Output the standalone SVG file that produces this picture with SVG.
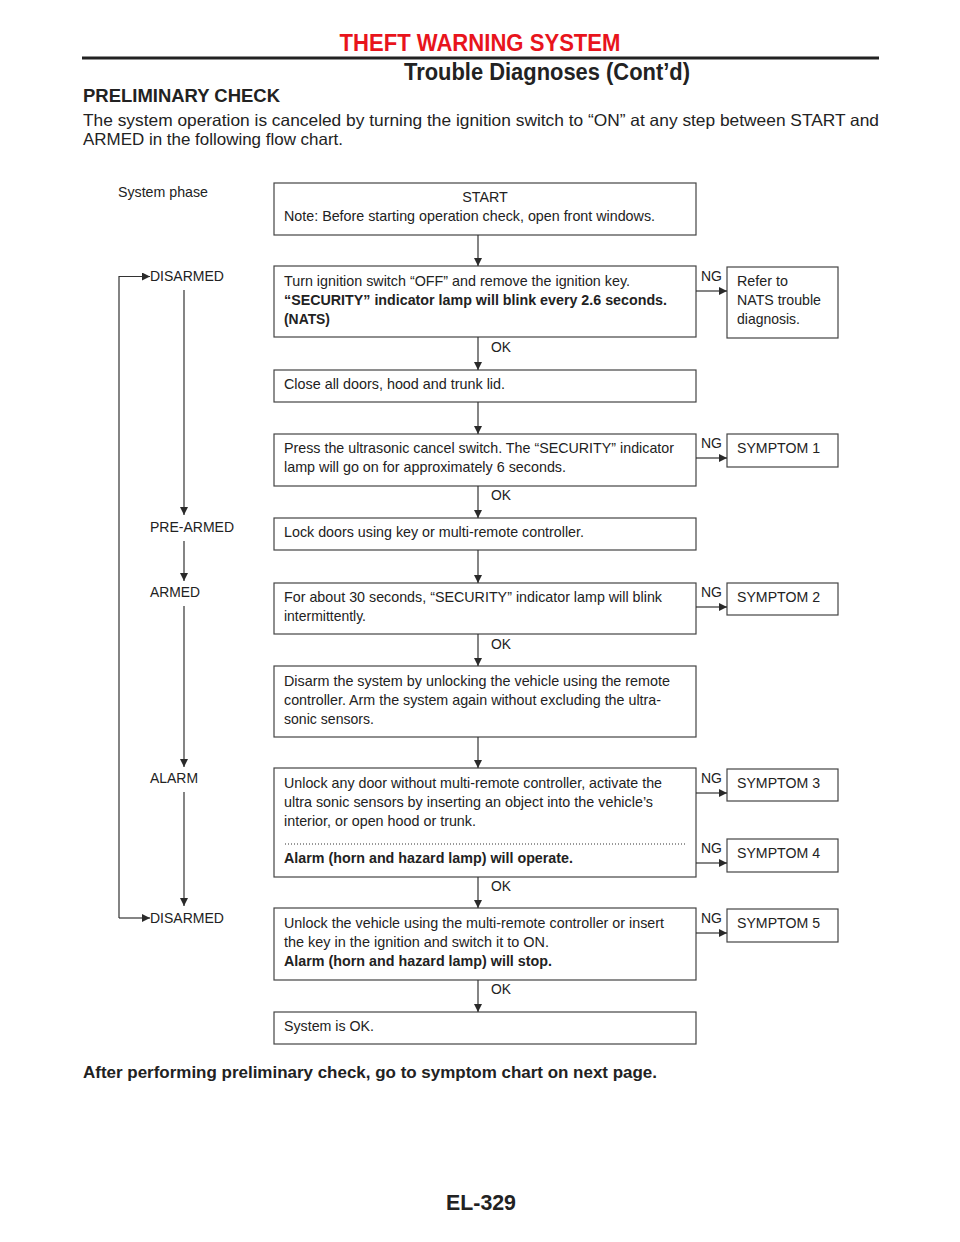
<svg xmlns="http://www.w3.org/2000/svg" width="960" height="1242" viewBox="0 0 960 1242">
<defs>
<marker id="ah" viewBox="0 0 10 10" refX="10" refY="5" markerWidth="9" markerHeight="8" markerUnits="userSpaceOnUse" orient="auto">
<path d="M0,0 L10,5 L0,10 z" fill="#2a2a2a"/>
</marker>
<style>
text{font-family:"Liberation Sans",Arial,Helvetica,sans-serif;fill:#222;}
.t{font-size:14.3px;}
.b{font-weight:bold;}
.box{fill:#fff;stroke:#444;stroke-width:1.2;}
.ln{fill:none;stroke:#333;stroke-width:1.2;}
.ar{fill:none;stroke:#333;stroke-width:1.2;marker-end:url(#ah);}
</style>
</defs>
<rect x="0" y="0" width="960" height="1242" fill="#fff"/>

<g id="header">
<text x="480" y="51" font-size="23" font-weight="bold" text-anchor="middle" style="fill:#e8141c" textLength="281" lengthAdjust="spacingAndGlyphs">THEFT WARNING SYSTEM</text>
<rect x="82" y="56.5" width="797" height="3" fill="#222"/>
<text x="404" y="80" font-size="23" font-weight="bold" textLength="286" lengthAdjust="spacingAndGlyphs">Trouble Diagnoses (Cont’d)</text>
<text x="83" y="102" font-size="18.5" font-weight="bold" textLength="197" lengthAdjust="spacingAndGlyphs">PRELIMINARY CHECK</text>
<text x="83" y="126" font-size="16.5" textLength="796" lengthAdjust="spacingAndGlyphs">The system operation is canceled by turning the ignition switch to “ON” at any step between START and</text>
<text x="83" y="145" font-size="16.5" textLength="260" lengthAdjust="spacingAndGlyphs">ARMED in the following flow chart.</text>
</g>

<g id="phases">
<text class="t" x="118" y="197" textLength="90" lengthAdjust="spacingAndGlyphs">System phase</text>
<text class="t" x="150" y="281" textLength="74" lengthAdjust="spacingAndGlyphs">DISARMED</text>
<text class="t" x="150" y="532" textLength="84" lengthAdjust="spacingAndGlyphs">PRE-ARMED</text>
<text class="t" x="150" y="597" textLength="50" lengthAdjust="spacingAndGlyphs">ARMED</text>
<text class="t" x="150" y="783" textLength="48" lengthAdjust="spacingAndGlyphs">ALARM</text>
<text class="t" x="150" y="923" textLength="74" lengthAdjust="spacingAndGlyphs">DISARMED</text>
</g>

<g id="n_start">
<rect class="box" x="274" y="183" width="422" height="52"/>
<text class="t" x="485" y="202" text-anchor="middle">START</text>
<text class="t" x="284" y="221" textLength="371" lengthAdjust="spacingAndGlyphs">Note: Before starting operation check, open front windows.</text>
</g>

<g id="n_ignition">
<rect class="box" x="274" y="266" width="422" height="71"/>
<text class="t" x="284" y="286" textLength="346" lengthAdjust="spacingAndGlyphs">Turn ignition switch “OFF” and remove the ignition key.</text>
<text class="t b" x="284" y="305" textLength="383" lengthAdjust="spacingAndGlyphs">“SECURITY” indicator lamp will blink every 2.6 seconds.</text>
<text class="t b" x="284" y="324" textLength="46" lengthAdjust="spacingAndGlyphs">(NATS)</text>
</g>

<g id="n_nats">
<rect class="box" x="727" y="267" width="111" height="71"/>
<text class="t" x="737" y="286" textLength="51" lengthAdjust="spacingAndGlyphs">Refer to</text>
<text class="t" x="737" y="305" textLength="84" lengthAdjust="spacingAndGlyphs">NATS trouble</text>
<text class="t" x="737" y="324" textLength="63" lengthAdjust="spacingAndGlyphs">diagnosis.</text>
</g>

<g id="n_close">
<rect class="box" x="274" y="370" width="422" height="32"/>
<text class="t" x="284" y="389" textLength="221" lengthAdjust="spacingAndGlyphs">Close all doors, hood and trunk lid.</text>
</g>

<g id="n_press">
<rect class="box" x="274" y="434" width="422" height="52"/>
<text class="t" x="284" y="453" textLength="390" lengthAdjust="spacingAndGlyphs">Press the ultrasonic cancel switch. The “SECURITY” indicator</text>
<text class="t" x="284" y="472" textLength="282" lengthAdjust="spacingAndGlyphs">lamp will go on for approximately 6 seconds.</text>
</g>

<g id="n_sym1">
<rect class="box" x="727" y="434" width="111" height="33"/>
<text class="t" x="737" y="453" textLength="83" lengthAdjust="spacingAndGlyphs">SYMPTOM 1</text>
</g>

<g id="n_lock">
<rect class="box" x="274" y="518" width="422" height="32"/>
<text class="t" x="284" y="537" textLength="300" lengthAdjust="spacingAndGlyphs">Lock doors using key or multi-remote controller.</text>
</g>

<g id="n_blink">
<rect class="box" x="274" y="583" width="422" height="51"/>
<text class="t" x="284" y="602" textLength="378" lengthAdjust="spacingAndGlyphs">For about 30 seconds, “SECURITY” indicator lamp will blink</text>
<text class="t" x="284" y="621" textLength="82" lengthAdjust="spacingAndGlyphs">intermittently.</text>
</g>

<g id="n_sym2">
<rect class="box" x="727" y="583" width="111" height="32"/>
<text class="t" x="737" y="602" textLength="83" lengthAdjust="spacingAndGlyphs">SYMPTOM 2</text>
</g>

<g id="n_disarm">
<rect class="box" x="274" y="666" width="422" height="71"/>
<text class="t" x="284" y="686" textLength="386" lengthAdjust="spacingAndGlyphs">Disarm the system by unlocking the vehicle using the remote</text>
<text class="t" x="284" y="705" textLength="377" lengthAdjust="spacingAndGlyphs">controller. Arm the system again without excluding the ultra-</text>
<text class="t" x="284" y="724" textLength="90" lengthAdjust="spacingAndGlyphs">sonic sensors.</text>
</g>

<g id="n_unlock">
<rect class="box" x="274" y="768" width="422" height="109"/>
<text class="t" x="284" y="788" textLength="378" lengthAdjust="spacingAndGlyphs">Unlock any door without multi-remote controller, activate the</text>
<text class="t" x="284" y="807" textLength="369" lengthAdjust="spacingAndGlyphs">ultra sonic sensors by inserting an object into the vehicle’s</text>
<text class="t" x="284" y="826" textLength="192" lengthAdjust="spacingAndGlyphs">interior, or open hood or trunk.</text>
<line x1="285" y1="844" x2="686" y2="844" stroke="#333" stroke-width="1" stroke-dasharray="1,2"/>
<text class="t b" x="284" y="863" textLength="289" lengthAdjust="spacingAndGlyphs">Alarm (horn and hazard lamp) will operate.</text>
</g>

<g id="n_sym3">
<rect class="box" x="727" y="769" width="111" height="32"/>
<text class="t" x="737" y="788" textLength="83" lengthAdjust="spacingAndGlyphs">SYMPTOM 3</text>
</g>

<g id="n_sym4">
<rect class="box" x="727" y="839" width="111" height="33"/>
<text class="t" x="737" y="858" textLength="83" lengthAdjust="spacingAndGlyphs">SYMPTOM 4</text>
</g>

<g id="n_stop">
<rect class="box" x="274" y="908" width="422" height="72"/>
<text class="t" x="284" y="928" textLength="380" lengthAdjust="spacingAndGlyphs">Unlock the vehicle using the multi-remote controller or insert</text>
<text class="t" x="284" y="947" textLength="265" lengthAdjust="spacingAndGlyphs">the key in the ignition and switch it to ON.</text>
<text class="t b" x="284" y="966" textLength="268" lengthAdjust="spacingAndGlyphs">Alarm (horn and hazard lamp) will stop.</text>
</g>

<g id="n_sym5">
<rect class="box" x="727" y="909" width="111" height="33"/>
<text class="t" x="737" y="928" textLength="83" lengthAdjust="spacingAndGlyphs">SYMPTOM 5</text>
</g>

<g id="n_ok">
<rect class="box" x="274" y="1012" width="422" height="32"/>
<text class="t" x="284" y="1031" textLength="90" lengthAdjust="spacingAndGlyphs">System is OK.</text>
</g>

<g id="connectors">
<line class="ar" x1="478" y1="235" x2="478" y2="266"/>
<line class="ar" x1="478" y1="337" x2="478" y2="370"/>
<line class="ar" x1="478" y1="402" x2="478" y2="434"/>
<line class="ar" x1="478" y1="486" x2="478" y2="518"/>
<line class="ar" x1="478" y1="550" x2="478" y2="583"/>
<line class="ar" x1="478" y1="634" x2="478" y2="666"/>
<line class="ar" x1="478" y1="737" x2="478" y2="768"/>
<line class="ar" x1="478" y1="877" x2="478" y2="908"/>
<line class="ar" x1="478" y1="980" x2="478" y2="1012"/>

<line class="ar" x1="696" y1="291" x2="727" y2="291"/>
<line class="ar" x1="696" y1="458" x2="727" y2="458"/>
<line class="ar" x1="696" y1="607" x2="727" y2="607"/>
<line class="ar" x1="696" y1="793" x2="727" y2="793"/>
<line class="ar" x1="696" y1="863" x2="727" y2="863"/>
<line class="ar" x1="696" y1="933" x2="727" y2="933"/>

<line class="ar" x1="184" y1="290" x2="184" y2="515"/>
<line class="ar" x1="184" y1="541" x2="184" y2="581"/>
<line class="ar" x1="184" y1="606" x2="184" y2="767"/>
<line class="ar" x1="184" y1="792" x2="184" y2="906"/>
<path class="ar" d="M119,918 L119,276.5 L150,276.5"/>
<line class="ar" x1="119" y1="918" x2="150" y2="918"/>

<text class="t" x="491" y="352" textLength="20" lengthAdjust="spacingAndGlyphs">OK</text>
<text class="t" x="491" y="500" textLength="20" lengthAdjust="spacingAndGlyphs">OK</text>
<text class="t" x="491" y="649" textLength="20" lengthAdjust="spacingAndGlyphs">OK</text>
<text class="t" x="491" y="891" textLength="20" lengthAdjust="spacingAndGlyphs">OK</text>
<text class="t" x="491" y="994" textLength="20" lengthAdjust="spacingAndGlyphs">OK</text>
<text class="t" x="701" y="281" textLength="21" lengthAdjust="spacingAndGlyphs">NG</text>
<text class="t" x="701" y="448" textLength="21" lengthAdjust="spacingAndGlyphs">NG</text>
<text class="t" x="701" y="597" textLength="21" lengthAdjust="spacingAndGlyphs">NG</text>
<text class="t" x="701" y="783" textLength="21" lengthAdjust="spacingAndGlyphs">NG</text>
<text class="t" x="701" y="853" textLength="21" lengthAdjust="spacingAndGlyphs">NG</text>
<text class="t" x="701" y="923" textLength="21" lengthAdjust="spacingAndGlyphs">NG</text>
</g>

<g id="footer">
<text x="83" y="1078" font-size="16.5" font-weight="bold" textLength="574" lengthAdjust="spacingAndGlyphs">After performing preliminary check, go to symptom chart on next page.</text>
<text x="481" y="1210" font-size="22" font-weight="bold" text-anchor="middle" textLength="70" lengthAdjust="spacingAndGlyphs">EL-329</text>
</g>
</svg>
